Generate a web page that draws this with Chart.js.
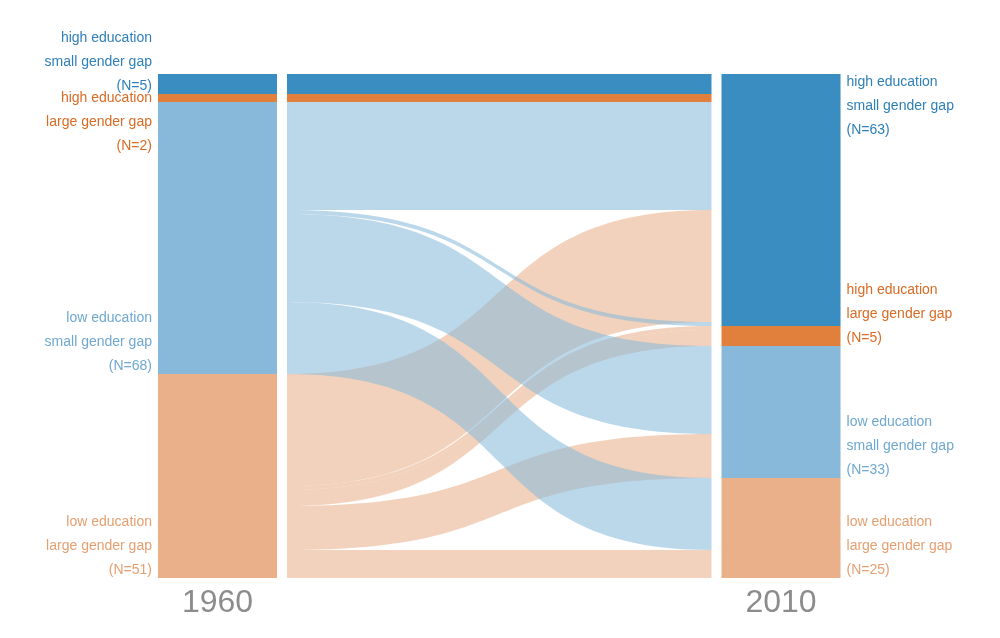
<!DOCTYPE html>
<html>
<head>
<meta charset="utf-8">
<title>Education and gender gap, 1960 to 2010</title>
<script src="https://cdn.jsdelivr.net/npm/chart.js@4.4.1/dist/chart.umd.min.js"></script>
<style>
  html, body { margin: 0; padding: 0; background: #fff; }
  #wrap { width: 1000px; height: 638px; }
</style>
</head>
<body>
<div id="wrap"><canvas id="chart"></canvas></div>
<script>
// groups, top to bottom
const groups = [
  ['high education', 'small gender gap'],
  ['high education', 'large gender gap'],
  ['low education', 'small gender gap'],
  ['low education', 'large gender gap']
];
const years = ['1960', '2010'];
const counts1960 = [5, 2, 68, 51];
const counts2010 = [63, 5, 33, 25];

// flows between the two years, listed in stacking order on both sides
const flowFrom = [0, 1, 2, 3, 2, 3, 3, 2, 3, 2, 3];
const flowTo   = [0, 0, 0, 0, 0, 1, 1, 2, 2, 3, 3];
const flowN    = [5, 2, 27, 28, 1, 1, 4, 22, 11, 18, 7];

const nodeColors = ['#3a8dc1', '#e0803c', '#88b9da', '#e9b08a'];
const textColors = ['#2e7fba', '#da6b24', '#6fa8d1', '#e79f70'];
const flowAlpha = [1, 1, 0.57, 0.57];
const fontFamily = '"Liberation Sans", Arial, sans-serif';

const total = counts1960.reduce((a, b) => a + b, 0);

function rgba(hex, a) {
  const v = parseInt(hex.slice(1), 16);
  return `rgba(${v >> 16}, ${(v >> 8) & 255}, ${v & 255}, ${a})`;
}

function starts(counts) {
  let s = 0;
  return counts.map(n => { const r = s; s += n; return r; });
}

// bar edges for the two year columns
function columnEdges(chart) {
  const meta = chart.getDatasetMeta(0);
  const l = meta.data[0].getProps(['x', 'width'], true);
  const r = meta.data[2].getProps(['x', 'width'], true);
  return {
    leftOuter: l.x - l.width / 2, leftInner: l.x + l.width / 2,
    rightInner: r.x - r.width / 2, rightOuter: r.x + r.width / 2
  };
}

const flowPlugin = {
  id: 'flows',
  beforeDatasetsDraw(chart, args, opts) {
    const ctx = chart.ctx;
    const y = chart.scales.y;
    const e = columnEdges(chart);
    const x0 = e.leftInner + opts.gap;
    const x1 = e.rightInner - opts.gap;
    const c0 = x0 + (x1 - x0) * opts.curve;
    const c1 = x1 - (x1 - x0) * opts.curve;

    const outPos = starts(counts1960);
    const inPos = starts(counts2010);
    const bands = flowN.map((n, i) => {
      const b = { src: flowFrom[i], a: outPos[flowFrom[i]], b: inPos[flowTo[i]], n: n };
      outPos[flowFrom[i]] += n;
      inPos[flowTo[i]] += n;
      return b;
    });

    ctx.save();
    opts.drawOrder.forEach(src => {
      bands.filter(b => b.src === src).forEach(b => {
        const ya0 = y.getPixelForValue(b.a), yb0 = y.getPixelForValue(b.a + b.n);
        const ya1 = y.getPixelForValue(b.b), yb1 = y.getPixelForValue(b.b + b.n);
        ctx.beginPath();
        ctx.moveTo(x0, ya0);
        ctx.bezierCurveTo(c0, ya0, c1, ya1, x1, ya1);
        ctx.lineTo(x1, yb1);
        ctx.bezierCurveTo(c1, yb1, c0, yb0, x0, yb0);
        ctx.closePath();
        ctx.fillStyle = rgba(nodeColors[src], flowAlpha[src]);
        ctx.fill();
      });
    });
    ctx.restore();
  }
};

const labelPlugin = {
  id: 'nodeLabels',
  afterDatasetsDraw(chart, args, opts) {
    const ctx = chart.ctx;
    const y = chart.scales.y;
    const e = columnEdges(chart);
    const sides = [
      { counts: counts1960, x: e.leftOuter - opts.offset, align: 'right', anchors: opts.anchors1960 },
      { counts: counts2010, x: e.rightOuter + opts.offset, align: 'left', anchors: opts.anchors2010 }
    ];
    ctx.save();
    ctx.font = `${opts.size}px ${fontFamily}`;
    ctx.textBaseline = 'middle';
    sides.forEach(side => {
      ctx.textAlign = side.align;
      let start = 0, prevLast = 0;
      side.counts.forEach((n, i) => {
        const top = y.getPixelForValue(start);
        const bottom = y.getPixelForValue(start + n);
        start += n;
        const lines = [groups[i][0], groups[i][1], '(N=' + n + ')'];
        let first;
        if (side.anchors[i] === 'top') first = top + 8;
        else if (side.anchors[i] === 'follow') first = prevLast + opts.lineHeight / 2;
        else first = bottom - 8 - opts.lineHeight * (lines.length - 1);
        ctx.fillStyle = textColors[i];
        lines.forEach((t, j) => ctx.fillText(t, side.x, first + j * opts.lineHeight));
        prevLast = first + (lines.length - 1) * opts.lineHeight;
      });
    });
    ctx.restore();
  }
};

new Chart(document.getElementById('chart'), {
  type: 'bar',
  data: {
    labels: [years[0], '', years[1]],
    datasets: groups.map((g, i) => ({
      label: g.join(', '),
      data: [counts1960[i], null, counts2010[i]],
      backgroundColor: nodeColors[i],
      borderWidth: 0,
      categoryPercentage: 1,
      barPercentage: 0.4224
    }))
  },
  options: {
    responsive: true,
    maintainAspectRatio: false,
    animation: false,
    layout: { padding: { left: 76.6, right: 78.1, top: 74, bottom: 9.6 } },
    plugins: {
      legend: { display: false },
      tooltip: { enabled: false },
      flows: { gap: 10, curve: 0.58, drawOrder: [0, 1, 3, 2] },
      nodeLabels: {
        size: 14, lineHeight: 24, offset: 6,
        anchors1960: ['bottom', 'follow', 'bottom', 'bottom'],
        anchors2010: ['top', 'bottom', 'bottom', 'bottom']
      }
    },
    scales: {
      x: {
        stacked: true,
        grid: { display: false, drawTicks: false },
        border: { display: false },
        ticks: { color: '#8c8c8c', padding: 6, font: { size: 32, family: fontFamily } }
      },
      y: { stacked: true, reverse: true, min: 0, max: total, display: false }
    }
  },
  plugins: [flowPlugin, labelPlugin]
});
</script>
</body>
</html>
